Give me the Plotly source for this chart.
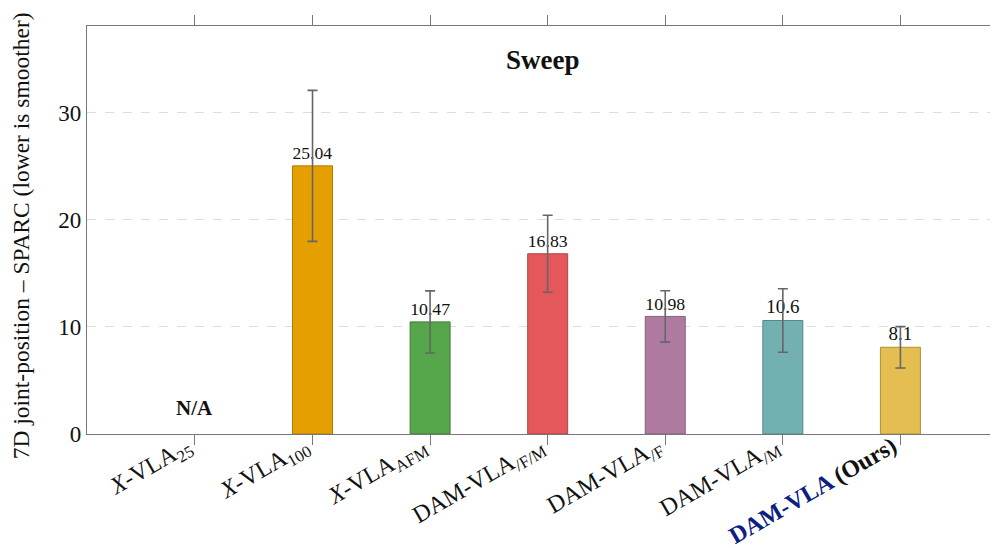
import plotly.graph_objects as go

categories = ["X-VLA25", "X-VLA100", "X-VLAAFM", "DAM-VLA/F/M", "DAM-VLA/F", "DAM-VLA/M", "DAM-VLA (Ours)"]
tick_labels = [
    "<i>X</i>-VLA<sub>25</sub>",
    "<i>X</i>-VLA<sub>100</sub>",
    "<i>X</i>-VLA<sub>AFM</sub>",
    "DAM-VLA<sub>/F/M</sub>",
    "DAM-VLA<sub>/F</sub>",
    "DAM-VLA<sub>/M</sub>",
    "<b><span style='color:#0b2080'>DAM-VLA</span> (Ours)</b>",
]
values = [None, 25.04, 10.47, 16.83, 10.98, 10.6, 8.1]
errors = [None, 7.05, 2.9, 3.6, 2.4, 2.97, 1.93]
value_text = ["", "25.04", "10.47", "16.83", "10.98", "10.6", "8.1"]
fill_colors = ["#cccccc", "#E69F00", "#56A64B", "#E4575A", "#AF7A9F", "#73B0B2", "#E5BE52"]
line_colors = ["#999999", "#B07A00", "#3E7D35", "#B04446", "#86607A", "#4F8A8B", "#B08F35"]
y_ticks = [0, 10, 20, 30]
na_label = "N/A"
title = "Sweep"
y_title = "7D joint-position – SPARC (lower is smoother)"

x = list(range(len(categories)))

fig = go.Figure()
fig.add_trace(go.Bar(
    x=x, y=values, width=0.34,
    marker=dict(color=fill_colors, line=dict(color=line_colors, width=1)),
    error_y=dict(type="data", array=errors, color="#666666", thickness=1.6, width=5, visible=True),
    text=value_text, textposition="outside",
    textfont=dict(family="Liberation Serif", size=19, color="#111111"),
    cliponaxis=False,
))

fig.add_annotation(x=0, y=2.4, xref="x", yref="y", text="<b>" + na_label + "</b>",
                   showarrow=False, font=dict(family="Liberation Serif", size=21, color="#111111"))
fig.add_annotation(x=0.5, y=34.9, xref="paper", yref="y", text="<b>" + title + "</b>",
                   showarrow=False, font=dict(family="Liberation Serif", size=27, color="#111111"))
# y-axis title as a rotated annotation for precise placement
fig.add_annotation(x=-0.0722, y=0.485, xref="paper", yref="paper", text=y_title, textangle=-90,
                   showarrow=False, xanchor="center", yanchor="middle",
                   font=dict(family="Liberation Serif", size=23.5, color="#111111"))

fig.update_layout(
    width=998, height=548,
    margin=dict(l=79, r=8, t=18, b=122),
    paper_bgcolor="white", plot_bgcolor="white",
    showlegend=False,
    font=dict(family="Liberation Serif", color="#111111"),
    xaxis=dict(
        tickmode="array", tickvals=x, ticktext=tick_labels,
        range=[-0.918, 6.83], tickangle=-30, automargin=False,
        ticks="outside", ticklen=10, tickcolor="#777777",
        showline=True, linecolor="#777777", linewidth=1.2, mirror="ticks",
        showgrid=False, zeroline=False, ticklabelstandoff=-22, ticklabelshift=-8,
        tickfont=dict(family="Liberation Serif", size=24, color="#111111"),
    ),
    yaxis=dict(
        range=[0, 38.1], tickvals=y_ticks, automargin=False,
        showline=True, linecolor="#777777", linewidth=1.2, mirror=True,
        showgrid=True, gridcolor="#dddddd", griddash="dash", gridwidth=1,
        zeroline=False, ticks="",
        tickfont=dict(family="Liberation Serif", size=23, color="#111111"),
    ),
)

fig.write_html("out.html")
